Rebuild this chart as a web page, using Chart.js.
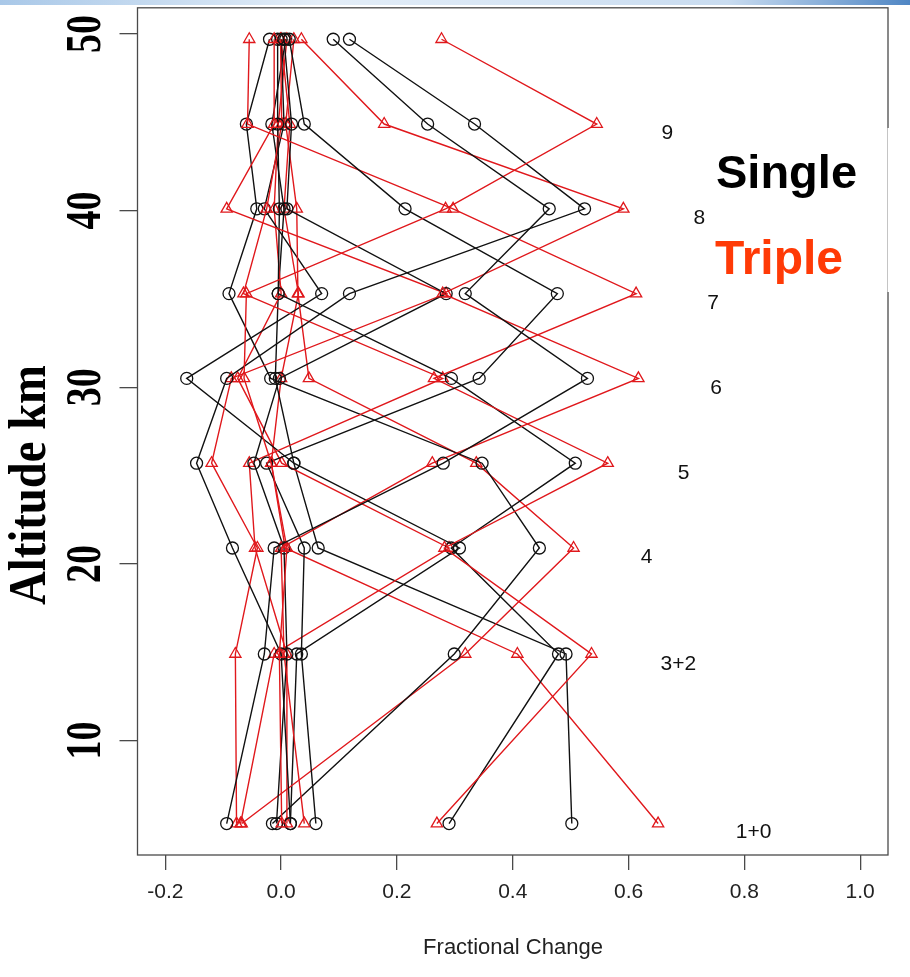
<!DOCTYPE html>
<html><head><meta charset="utf-8">
<script src="https://cdn.jsdelivr.net/npm/chart.js@4.4.1/dist/chart.umd.min.js"></script>
<style>html,body{margin:0;padding:0;background:#fff;overflow:hidden}canvas{display:block}</style>
</head><body>
<canvas id="c" width="910" height="977"></canvas>
<script>
// ---- data ----
const altitudes = [49.7, 44.9, 40.1, 35.3, 30.5, 25.7, 20.9, 14.9, 5.3];

// Single (black circles)
const singleA = [0.090, 0.253, 0.463, 0.318, 0.529, 0.280, -0.012, -0.029, -0.094];
const singleB = [0.118, 0.334, 0.524, 0.118, -0.094, -0.146, -0.084, 0.000, 0.016];
const singleC = [0.014, 0.040, 0.214, 0.477, 0.342, -0.025, 0.040, 0.035, 0.060];
const singleD = [0.005, 0.018, 0.010, 0.285, -0.003, -0.047, 0.005, 0.010, -0.008];
const singleE = [-0.006, -0.006, -0.003, -0.005, 0.294, 0.508, 0.294, 0.479, 0.290];
const singleF = [-0.020, -0.060, -0.042, -0.090, -0.018, 0.347, 0.446, 0.299, -0.015];
const singleG = [0.000, 0.005, -0.029, 0.070, -0.163, 0.022, 0.308, 0.027, 0.016];
const singleH = [0.008, -0.016, 0.005, -0.005, -0.010, 0.022, 0.064, 0.492, 0.502];

// Triple (red triangles)
const tripleA = [0.277, 0.545, 0.284, -0.060, -0.064, -0.017, 0.010, -0.003, 0.001];
const tripleB = [0.035, 0.178, 0.591, 0.279, 0.617, 0.261, 0.000, 0.005, 0.040];
const tripleC = [-0.055, -0.058, 0.297, 0.613, 0.264, 0.564, 0.282, 0.536, 0.269];
const tripleD = [-0.012, -0.012, -0.094, 0.285, -0.086, -0.120, -0.041, -0.079, -0.077];
const tripleE = [-0.001, 0.001, -0.025, -0.065, 0.279, -0.055, -0.045, 0.010, 0.010];
const tripleF = [0.022, 0.008, 0.027, 0.029, 0.048, 0.337, 0.505, 0.318, -0.068];
const tripleG = [0.010, -0.005, -0.012, 0.000, -0.075, 0.001, 0.290, -0.012, -0.070];
const tripleH = [0.000, 0.015, 0.005, 0.030, 0.000, -0.017, 0.007, 0.408, 0.651];

const singleSeries = [singleA, singleB, singleC, singleD, singleE, singleF, singleG, singleH];
const tripleSeries = [tripleA, tripleB, tripleC, tripleD, tripleE, tripleF, tripleG, tripleH];

const xTicks = [-0.2, 0.0, 0.2, 0.4, 0.6, 0.8, 1.0];
const yTicks = [10, 20, 30, 40, 50];
const layerLabels = ['9', '8', '7', '6', '5', '4', '3+2', '1+0'];
const layerLabelX = [0.667, 0.722, 0.746, 0.751, 0.695, 0.631, 0.686, 0.816];
const layerLabelY = [44.4, 39.55, 34.76, 29.96, 25.16, 20.36, 14.33, 4.8];
const legendNames = ['Single', 'Triple'];
const xTitle = 'Fractional Change';
const yTitle = 'Altitude km';

// ---- styles ----
const BLACK = '#111111';
const RED = '#e0181c';
const LEG_RED = '#ff3a06';
const X_RANGE = [-0.248, 1.048];
const Y_RANGE = [3.52, 51.48];

function toPoints(vals) { return vals.map((v, i) => ({ x: v, y: altitudes[i] })); }

const datasets = [];
for (let i = 0; i < singleSeries.length; i++) {
  datasets.push({
    label: legendNames[0], data: toPoints(singleSeries[i]), showLine: true,
    borderColor: BLACK, borderWidth: 1.4, pointStyle: 'circle', pointRadius: 6,
    pointBorderColor: BLACK, pointBackgroundColor: 'rgba(0,0,0,0)', pointBorderWidth: 1.3
  });
  datasets.push({
    label: legendNames[1], data: toPoints(tripleSeries[i]), showLine: true,
    borderColor: RED, borderWidth: 1.4, pointStyle: 'triangle', pointRadius: 6.5,
    pointBorderColor: RED, pointBackgroundColor: 'rgba(0,0,0,0)', pointBorderWidth: 1.3
  });
}

const decor = {
  id: 'decor',
  beforeDraw(chart) {
    const ctx = chart.ctx;
    ctx.save();
    ctx.fillStyle = '#ffffff';
    ctx.fillRect(0, 0, chart.width, chart.height);
    const g = ctx.createLinearGradient(0, 0, chart.width, 0);
    g.addColorStop(0, '#a9c8e8');
    g.addColorStop(0.35, '#e4eef8');
    g.addColorStop(0.8, '#c9dcf0');
    g.addColorStop(1, '#4f86c4');
    ctx.fillStyle = g;
    ctx.fillRect(0, 0, chart.width, 5);
    ctx.restore();
  },
  afterDatasetsDraw(chart) {
    const ctx = chart.ctx;
    const a = chart.chartArea;
    const xs = chart.scales.x, ys = chart.scales.y;
    ctx.save();
    // plot box
    ctx.strokeStyle = '#4a4a4a';
    ctx.lineWidth = 1.3;
    ctx.strokeRect(a.left, a.top, a.right - a.left, a.bottom - a.top);

    // y tick labels (rotated, condensed serif)
    ctx.fillStyle = '#000';
    ctx.font = 'bold 50px "Liberation Serif", "DejaVu Serif", serif';
    ctx.textAlign = 'center';
    ctx.textBaseline = 'alphabetic';
    yTicks.forEach(v => {
      const py = ys.getPixelForValue(v);
      ctx.save();
      ctx.translate(100, py);
      ctx.rotate(-Math.PI / 2);
      ctx.scale(0.76, 1);
      ctx.fillText(String(v), 0, 0);
      ctx.restore();
    });
    // y title
    ctx.save();
    ctx.font = 'bold 52px "Liberation Serif", "DejaVu Serif", serif';
    const w = ctx.measureText(yTitle).width;
    ctx.translate(45, 485);
    ctx.rotate(-Math.PI / 2);
    ctx.scale(240 / w, 1);
    ctx.fillText(yTitle, 0, 0);
    ctx.restore();

    // x title
    ctx.font = '22px "Liberation Sans", Arial, sans-serif';
    ctx.fillStyle = '#222';
    ctx.textBaseline = 'middle';
    ctx.fillText(xTitle, 513, 948);

    // layer labels
    ctx.font = '21px "Liberation Sans", Arial, sans-serif';
    ctx.fillStyle = '#111';
    layerLabels.forEach((t, i) => {
      ctx.fillText(t, xs.getPixelForValue(layerLabelX[i]), ys.getPixelForValue(layerLabelY[i]));
    });

    // legend panel
    ctx.fillStyle = '#ffffff';
    ctx.fillRect(712, 128, 190, 164);
    ctx.strokeStyle = '#c4c4c4';
    ctx.lineWidth = 1;
    ctx.beginPath(); ctx.moveTo(887.5, 128); ctx.lineTo(887.5, 292); ctx.stroke();
    ctx.textAlign = 'left';
    ctx.textBaseline = 'alphabetic';
    ctx.font = 'bold 47px "Liberation Sans", Arial, sans-serif';
    ctx.fillStyle = '#000';
    ctx.fillText(legendNames[0], 716, 188);
    ctx.fillStyle = LEG_RED;
    ctx.font = 'bold 48px "Liberation Sans", Arial, sans-serif';
    ctx.fillText(legendNames[1], 715, 274);
    ctx.restore();
  }
};

new Chart(document.getElementById('c'), {
  type: 'scatter',
  data: { datasets },
  options: {
    responsive: false,
    animation: false,
    devicePixelRatio: 1,
    events: [],
    layout: { padding: { left: 0, right: 22, top: 5, bottom: 0 } },
    plugins: { legend: { display: false }, tooltip: { enabled: false } },
    scales: {
      x: {
        type: 'linear', min: X_RANGE[0], max: X_RANGE[1],
        afterBuildTicks: s => { s.ticks = xTicks.map(v => ({ value: v })); },
        afterFit: s => { s.height = 122; },
        grid: { display: true, drawOnChartArea: false, drawTicks: true, tickLength: 15, color: '#4a4a4a', lineWidth: 1.3 },
        border: { display: false },
        ticks: {
          callback: v => Number(v).toFixed(1), maxRotation: 0, minRotation: 0, autoSkip: false,
          padding: 10, color: '#222', font: { family: '"Liberation Sans", Arial, sans-serif', size: 21 }
        }
      },
      y: {
        type: 'linear', min: Y_RANGE[0], max: Y_RANGE[1],
        afterBuildTicks: s => { s.ticks = yTicks.map(v => ({ value: v })); },
        afterFit: s => { s.width = 137.5; },
        grid: { display: true, drawOnChartArea: false, drawTicks: true, tickLength: 18, color: '#4a4a4a', lineWidth: 1.3 },
        border: { display: false },
        ticks: { display: false }
      }
    }
  },
  plugins: [decor]
});
</script>
</body></html>
